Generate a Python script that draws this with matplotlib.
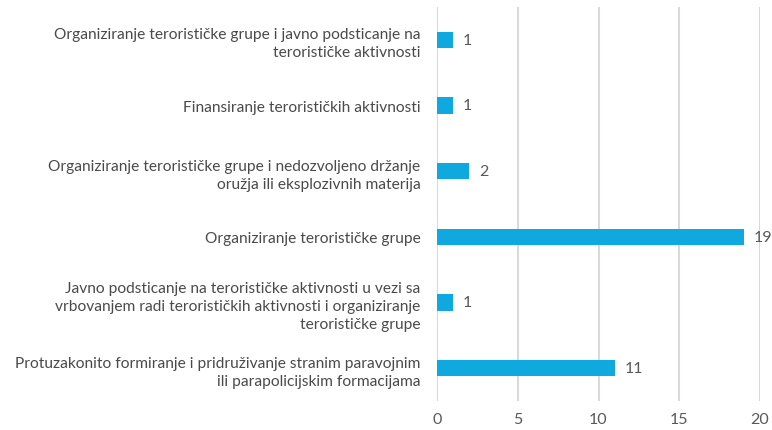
import matplotlib
matplotlib.use("Agg")
import matplotlib.pyplot as plt

# categories listed bottom to top
categories = [
    "Protuzakonito formiranje i pridruživanje stranim paravojnim\nili parapolicijskim formacijama",
    "Javno podsticanje na terorističke aktivnosti u vezi sa\nvrbovanjem radi terorističkih aktivnosti i organiziranje\nterorističke grupe",
    "Organiziranje terorističke grupe",
    "Organiziranje terorističke grupe i nedozvoljeno držanje\noružja ili eksplozivnih materija",
    "Finansiranje terorističkih aktivnosti",
    "Organiziranje terorističke grupe i javno podsticanje na\nterorističke aktivnosti",
]
values = [11, 1, 19, 2, 1, 1]
xticks = [0, 5, 10, 15, 20]

plt.rcParams['font.family'] = ['Lato', 'DejaVu Sans']

fig = plt.figure(figsize=(7.72, 4.31), dpi=100)
ax = fig.add_axes([437 / 772, 29 / 431, 323 / 772, 394 / 431])

ypos = list(range(len(categories)))
ax.barh(ypos, values, height=0.25, color="#0FA9E0", zorder=3)

for y, v in zip(ypos, values):
    ax.text(v + 0.6, y, str(v), va="center", ha="left", fontsize=11.5, color="#595959")

ax.set_xlim(0, 20)
ax.set_ylim(-0.5, 5.5)
ax.set_xticks(xticks)
ax.set_yticks(ypos)
ax.set_yticklabels(categories, fontsize=11.2, color="#4a4a4a", ha="right",
                   linespacing=1.35)
ax.tick_params(axis="x", labelsize=11.5, labelcolor="#595959", length=0, pad=8)
ax.tick_params(axis="y", length=0, pad=12)
ax.xaxis.grid(True, color="#d9d9d9", linewidth=1.5, zorder=0)
for s in ax.spines.values():
    s.set_visible(False)

fig.savefig("out.png", dpi=100)
